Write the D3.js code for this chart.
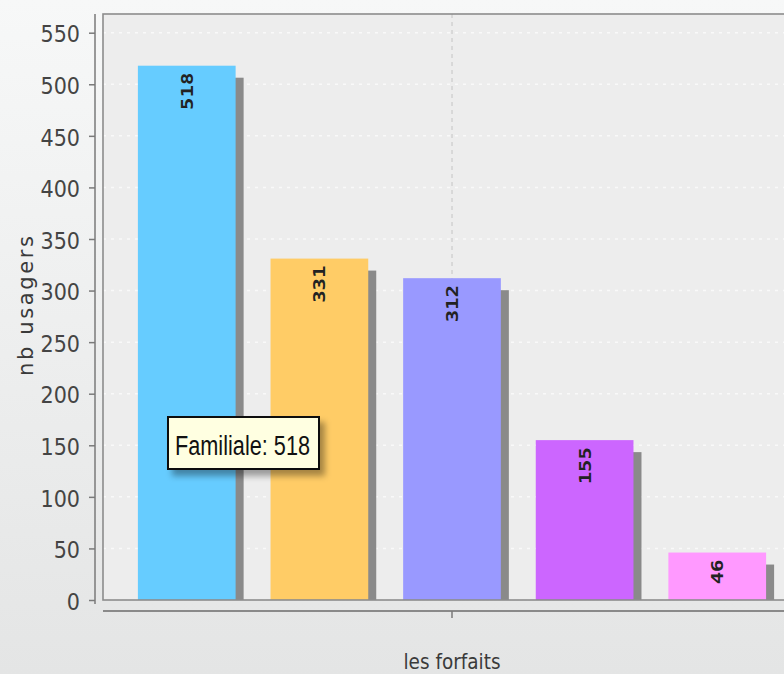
<!DOCTYPE html>
<html><head><meta charset="utf-8">
<script src="https://cdn.jsdelivr.net/npm/d3@7"></script>
<style>html,body{margin:0;padding:0;overflow:hidden;background:#eee}</style>
</head><body>
<script>
// ---- data ----
const categories = [""];
const series = ["Familiale", "Série 2", "Série 3", "Série 4", "Série 5"];
const values = [518, 331, 312, 155, 46];
const colors = ["#66ccff", "#ffcc66", "#9999ff", "#cc66ff", "#ff99ff"];
const yTicks = [0, 50, 100, 150, 200, 250, 300, 350, 400, 450, 500, 550];
const yTitle = "nb usagers";
const xTitle = "les forfaits";
const tooltipSeries = 0;

const W = 784, H = 674;
const plotL = 103, plotR = 801, plotT = 14, plotB = 600;
const svg = d3.select("body").append("svg").attr("width", W).attr("height", H);
const defs = svg.append("defs");
const bg = defs.append("linearGradient").attr("id", "bg").attr("x1", 0).attr("y1", 0).attr("x2", 0).attr("y2", 1);
bg.append("stop").attr("offset", 0).attr("stop-color", "#f7f8f8");
bg.append("stop").attr("offset", 1).attr("stop-color", "#e4e5e5");
defs.append("clipPath").attr("id", "plotclip").append("rect")
  .attr("x", plotL).attr("y", plotT).attr("width", plotR - plotL).attr("height", plotB - plotT);
const f = defs.append("filter").attr("id", "tipsh").attr("x", "-20%").attr("y", "-20%").attr("width", "150%").attr("height", "160%");
f.append("feDropShadow").attr("dx", 5).attr("dy", 6).attr("stdDeviation", 3).attr("flood-color", "#000").attr("flood-opacity", 0.35);

svg.append("rect").attr("width", W).attr("height", H).attr("fill", "url(#bg)");

// plot area
svg.append("rect").attr("x", plotL).attr("y", plotT).attr("width", plotR - plotL).attr("height", plotB - plotT)
  .attr("fill", "#ededed");

const y = d3.scaleLinear().domain([0, 550]).range([plotB, 32.7]);
const pw = plotR - plotL;
const xc = d3.scaleBand().domain(categories).range([plotL, plotR]);
const xs = d3.scaleBand().domain(series).range([plotL + 0.05 * pw, plotR - 0.05 * pw]).paddingInner(0.2632);

const g = svg.append("g").attr("clip-path", "url(#plotclip)");
// gridlines
g.selectAll("line.hg").data(yTicks).join("line")
  .attr("x1", plotL).attr("x2", plotR).attr("y1", d => y(d)).attr("y2", d => y(d))
  .attr("stroke", "#f9f9f9").attr("stroke-width", 1.5).attr("stroke-dasharray", "3,5");
g.selectAll("line.vg").data(categories).join("line")
  .attr("x1", d => xc(d) + xc.bandwidth() / 2).attr("x2", d => xc(d) + xc.bandwidth() / 2)
  .attr("y1", plotT).attr("y2", plotB)
  .attr("stroke", "#c4c4c4").attr("stroke-width", 1).attr("stroke-dasharray", "4,4");

const data = series.map((s, i) => ({ s, v: values[i], c: colors[i] }));
// shadows
g.selectAll("rect.sh").data(data).join("rect")
  .attr("x", d => xs(d.s) + 8).attr("y", d => y(d.v) + 12)
  .attr("width", xs.bandwidth()).attr("height", d => plotB - y(d.v))
  .attr("fill", "#8a8a8a");
// bars
g.selectAll("rect.bar").data(data).join("rect")
  .attr("x", d => xs(d.s)).attr("y", d => y(d.v))
  .attr("width", xs.bandwidth()).attr("height", d => plotB - y(d.v))
  .attr("fill", d => d.c);
// value labels
g.selectAll("text.val").data(data).join("text")
  .attr("transform", d => `translate(${xs(d.s) + xs.bandwidth() / 2 + 6},${y(d.v) + 7}) rotate(-90)`)
  .attr("text-anchor", "end")
  .attr("font-family", "DejaVu Sans Mono").attr("font-size", 16).attr("font-weight", "bold").attr("fill", "#222")
  .attr("textLength", d => String(d.v).length * 12.4).attr("lengthAdjust", "spacingAndGlyphs")
  .text(d => d.v);

// plot border
svg.append("rect").attr("x", plotL).attr("y", plotT).attr("width", plotR - plotL).attr("height", plotB - plotT)
  .attr("fill", "none").attr("stroke", "#8c8c8c").attr("stroke-width", 1.6);

// y axis
const ya = svg.append("g").attr("transform", "translate(95,0)")
  .call(d3.axisLeft(y).tickValues(yTicks).tickSize(6).tickPadding(9));
ya.select(".domain").attr("stroke", "#7a7a7a").attr("stroke-width", 1.5).attr("d", `M0,${plotT}V${plotB + 4}`);
ya.selectAll(".tick line").attr("stroke", "#7a7a7a").attr("stroke-width", 1.5);
ya.selectAll(".tick text").attr("font-family", "DejaVu Sans Condensed, DejaVu Sans").attr("font-size", 23)
  .attr("fill", "#444").attr("dy", "0.4em").style("font-stretch", "condensed");

// x axis
const xa = svg.append("g").attr("transform", "translate(0,611)")
  .call(d3.axisBottom(xc).tickSize(7).tickFormat(() => ""));
xa.select(".domain").attr("stroke", "#8a8a8a").attr("stroke-width", 2).attr("d", `M${plotL},0H${plotR}`);
xa.selectAll(".tick line").attr("stroke", "#7a7a7a").attr("stroke-width", 1.5);

// titles
svg.append("text").attr("transform", "translate(33,306) rotate(-90)").attr("text-anchor", "middle")
  .attr("font-family", "DejaVu Sans").attr("font-size", 21).attr("fill", "#3a3a3a")
  .attr("textLength", 140).text(yTitle);
svg.append("text").attr("x", 452).attr("y", 669).attr("text-anchor", "middle")
  .attr("font-family", "DejaVu Sans Condensed, DejaVu Sans").attr("font-size", 22).attr("fill", "#3a3a3a")
  .attr("textLength", 97).attr("lengthAdjust", "spacingAndGlyphs").text(xTitle);

// tooltip
const tip = svg.append("g");
tip.append("rect").attr("x", 168).attr("y", 417).attr("width", 151).attr("height", 52)
  .attr("fill", "#ffffe1").attr("stroke", "#111").attr("stroke-width", 2).attr("filter", "url(#tipsh)");
tip.append("text").attr("x", 175).attr("y", 455)
  .attr("font-family", "Liberation Sans Narrow, Liberation Sans").attr("font-size", 27).attr("fill", "#111")
  .attr("textLength", 135).attr("lengthAdjust", "spacingAndGlyphs")
  .text(`${series[tooltipSeries]}: ${values[tooltipSeries]}`);
</script>
</body></html>
